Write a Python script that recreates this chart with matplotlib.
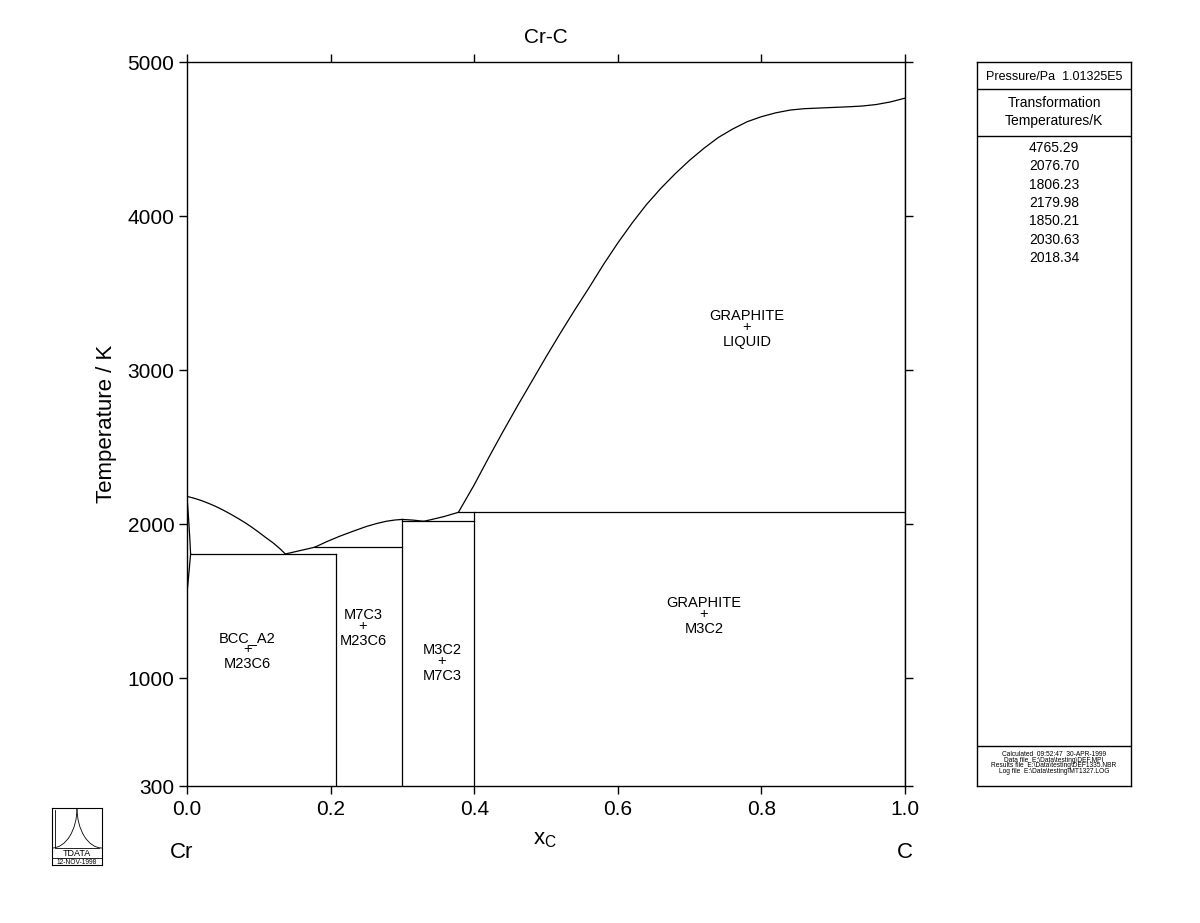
import matplotlib.pyplot as plt
from matplotlib.patches import Arc

plt.rcParams['font.family'] = ['Liberation Sans', 'DejaVu Sans']

W, H = 1200, 923

# phase boundaries (x_C, T/K)
bcc_liq_x = [0.0, 0.01, 0.02, 0.03, 0.04, 0.05, 0.06, 0.07, 0.08, 0.09,
             0.10, 0.11, 0.12, 0.13, 0.137]
bcc_liq_t = [2179.98, 2168, 2153, 2135, 2115, 2092, 2067, 2040, 2012, 1981,
             1947, 1912, 1878, 1838, 1806.23]
bcc_sol_x = [0.0, 0.002, 0.004, 0.005]
bcc_sol_t = [2179.98, 2050, 1900, 1806.23]
bcc_solv_x = [0.005, 0.003, 0.001, 0.0]
bcc_solv_t = [1806.23, 1700, 1600, 1550]
m23_liq_x = [0.137, 0.178]
m23_liq_t = [1806.23, 1850.21]
m7_liq_x = [0.178, 0.195, 0.213, 0.232, 0.250, 0.265, 0.278, 0.290, 0.300, 0.315, 0.330]
m7_liq_t = [1850.21, 1887, 1922, 1955, 1985, 2005, 2019, 2027, 2030.63, 2026, 2018.34]
m3_liq_x = [0.330, 0.357, 0.378]
m3_liq_t = [2018.34, 2048, 2076.70]
gr_liq_x = [0.378, 0.40, 0.42, 0.44, 0.46, 0.48, 0.50, 0.52, 0.54, 0.56, 0.58,
            0.60, 0.62, 0.64, 0.66, 0.68, 0.70, 0.72, 0.74, 0.76, 0.78, 0.80,
            0.82, 0.84, 0.86, 0.88, 0.90, 0.92, 0.94, 0.96, 0.98, 1.0]
gr_liq_t = [2076.70, 2255, 2430, 2600, 2765, 2925, 3085, 3240, 3390, 3535, 3685,
            3825, 3955, 4075, 4180, 4275, 4362, 4440, 4510, 4565, 4612, 4645,
            4670, 4688, 4697, 4701, 4705, 4709, 4714, 4724, 4741, 4765.29]

# invariant lines: (x_start, x_end, T)
invariants = [(0.005, 0.207, 1806.23), (0.178, 0.300, 1850.21),
              (0.300, 0.400, 2018.34), (0.378, 1.000, 2076.70)]
# stoichiometric compounds: (x, T_top)
compounds = [(0.207, 1806.23), (0.300, 2030.63), (0.400, 2076.70), (1.000, 4765.29)]

region_labels = [("GRAPHITE", "LIQUID", 0.78, 3280),
                 ("GRAPHITE", "M3C2", 0.72, 1416),
                 ("BCC_A2", "M23C6", 0.084, 1189),
                 ("M7C3", "M23C6", 0.245, 1339),
                 ("M3C2", "M7C3", 0.355, 1111)]

trans_temps = [4765.29, 2076.70, 1806.23, 2179.98, 1850.21, 2030.63, 2018.34]
footer_lines = ["Calculated  09:52:47  30-APR-1999",
                "Data file  E:\\Data\\testing\\DEF.MPI",
                "Results file  E:\\Data\\testing\\DEF1335.NBR",
                "Log file  E:\\Data\\testing\\MT1327.LOG"]

xticks = [0.0, 0.2, 0.4, 0.6, 0.8, 1.0]
yticks = [300, 1000, 2000, 3000, 4000, 5000]


def px_box(x0, y0, x1, y1):
    return [x0 / W, 1 - y1 / H, (x1 - x0) / W, (y1 - y0) / H]


fig = plt.figure(figsize=(W / 100, H / 100), dpi=100)
ax = fig.add_axes(px_box(187, 62, 905, 786))

lw = 0.9
for xs, ts in [(bcc_liq_x, bcc_liq_t), (bcc_sol_x, bcc_sol_t), (bcc_solv_x, bcc_solv_t),
               (m23_liq_x, m23_liq_t), (m7_liq_x, m7_liq_t), (m3_liq_x, m3_liq_t),
               (gr_liq_x, gr_liq_t)]:
    ax.plot(xs, ts, color='black', lw=lw)
for x0, x1, t in invariants:
    ax.plot([x0, x1], [t, t], color='black', lw=lw)
for x, t in compounds:
    ax.plot([x, x], [300, t], color='black', lw=lw)

for top, bot, x, t in region_labels:
    ax.annotate(top, (x, t), xytext=(0, 8), textcoords='offset points',
                ha='center', va='center', fontsize=10.5)
    ax.annotate('+', (x, t), ha='center', va='center', fontsize=10.5)
    ax.annotate(bot, (x, t), xytext=(0, -11), textcoords='offset points',
                ha='center', va='center', fontsize=10.5)

ax.set_xlim(0, 1)
ax.set_ylim(300, 5000)
ax.set_xticks(xticks)
ax.set_xticklabels([f"{v:.1f}" for v in xticks])
ax.set_yticks(yticks)
ax.tick_params(direction='out', length=6, width=1, labelsize=15,
               top=True, right=True, labeltop=False, labelright=False)
ax.tick_params(axis='x', pad=4)
ax.tick_params(axis='y', pad=3)
for s in ax.spines.values():
    s.set_linewidth(1)
ax.set_title("Cr-C", fontsize=15, pad=14)
ax.set_ylabel("Temperature / K", fontsize=16, labelpad=8)

fig.text(545 / W, 1 - 840 / H, r"x$_\mathregular{C}$", fontsize=16, ha='center', va='center')
fig.text(182 / W, 1 - 853 / H, "Cr", fontsize=16, ha='center', va='center')
fig.text(905 / W, 1 - 853 / H, "C", fontsize=16, ha='center', va='center')

# side panel, pixel coordinates
sp = fig.add_axes(px_box(977, 62, 1131, 786))
sp.set_xlim(0, 154)
sp.set_ylim(724, 0)
sp.set_xticks([])
sp.set_yticks([])
for s in sp.spines.values():
    s.set_linewidth(1)
sp.axhline(27, color='black', lw=1)
sp.axhline(74, color='black', lw=1)
sp.axhline(684, color='black', lw=1)
sp.text(77, 15, "Pressure/Pa  1.01325E5", ha='center', va='center', fontsize=9)
sp.text(77, 41, "Transformation", ha='center', va='center', fontsize=10)
sp.text(77, 59, "Temperatures/K", ha='center', va='center', fontsize=10)
for i, t in enumerate(trans_temps):
    sp.text(77, 86 + i * 18.3, f"{t:.2f}", ha='center', va='center', fontsize=10)
for i, line in enumerate(footer_lines):
    sp.text(77, 693 + i * 5.4, line, ha='center', va='center', fontsize=4.8, clip_on=True)

# logo
lg = fig.add_axes(px_box(52, 808, 102, 865))
lg.set_xlim(0, 50)
lg.set_ylim(57, 0)
lg.set_xticks([])
lg.set_yticks([])
for s in lg.spines.values():
    s.set_linewidth(0.8)
lg.add_patch(Arc((0, 0), 50, 80, theta1=0, theta2=90, lw=0.6))
lg.add_patch(Arc((50, 0), 50, 80, theta1=90, theta2=180, lw=0.6))
lg.plot([3, 3, 47], [2, 40, 40], color='black', lw=0.6)
lg.plot([0, 50], [50, 50], color='black', lw=0.6)
lg.text(25, 45, "TDATA", ha='center', va='center', fontsize=6.5)
lg.text(25, 54, "12-NOV-1998", ha='center', va='center', fontsize=4.8)

fig.savefig("out.png", dpi=100)
